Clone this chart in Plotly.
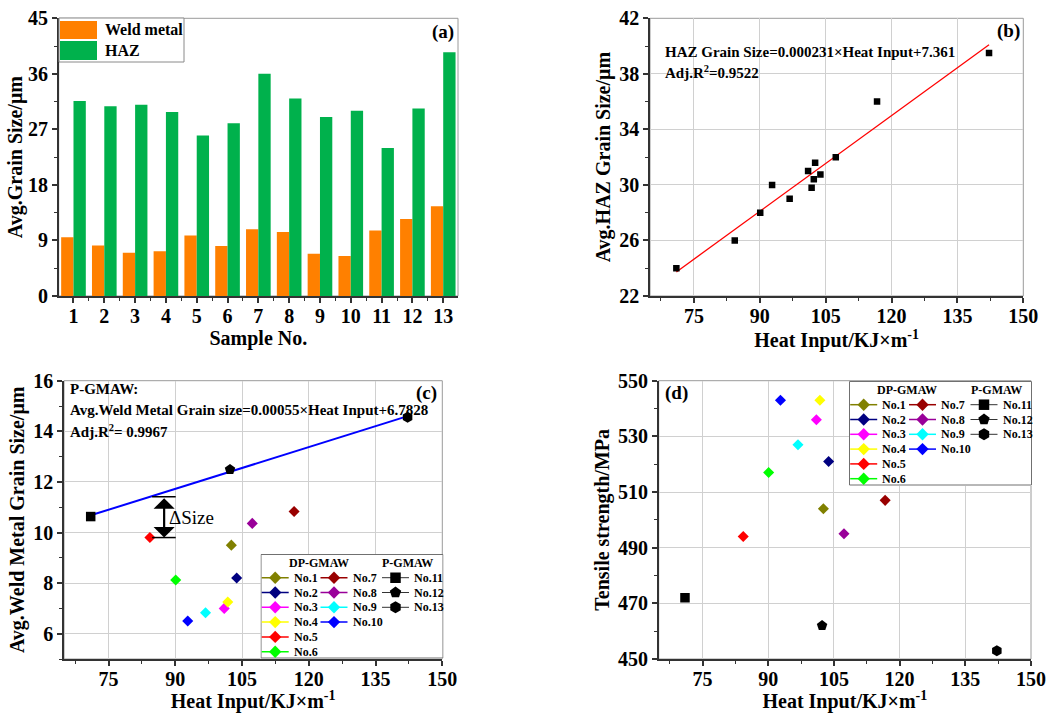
import numpy as np
import plotly.graph_objects as go

W, H = 1049, 713
FONT = "Liberation Serif, Times New Roman, serif"

# ---------------- data ----------------
samples = list(range(1, 14))
sample_names = [f"No.{i}" for i in samples]
heat_input = [102.6, 103.8, 101.0, 101.8, 84.3, 90.1, 116.7, 107.3, 96.8, 92.8, 71.0, 102.3, 142.2]
weld_size = [9.5, 8.2, 7.0, 7.25, 9.8, 8.12, 10.83, 10.36, 6.83, 6.5, 10.63, 12.49, 14.56]
haz_size = [31.6, 30.75, 31.0, 29.8, 26.0, 28.0, 36.0, 32.0, 29.0, 30.0, 24.0, 30.4, 39.5]
tensile = [504, 521, 536, 543, 494, 517, 507, 495, 527, 543, 472, 462, 453]
process = ["DP-GMAW"] * 10 + ["P-GMAW"] * 3
colors = ["#808000", "#000080", "#FF00FF", "#FFFF00", "#FF0000", "#00FF00",
          "#990000", "#990099", "#00FFFF", "#0000FF", "#000000", "#000000", "#000000"]
symbols = ["diamond"] * 10 + ["square", "pentagon", "hexagon"]
msizes = [8.5] * 10 + [9.5, 11, 11]

eq_b = ["HAZ Grain Size=0.000231×Heat Input+7.361", "Adj.R<sup>2</sup>=0.9522"]
eq_c = ["P-GMAW:", "Avg.Weld Metal Grain size=0.00055×Heat Input+6.7828", "Adj.R<sup>2</sup>= 0.9967"]

BAR_ORANGE = "#FF8000"
BAR_GREEN = "#00B14C"


def px(x):
    return x / W


def py(y):
    return 1 - y / H


fig = go.Figure()

# ---------------- (a) bars ----------------
fig.add_trace(go.Bar(x=samples, y=weld_size, name="Weld metal", marker=dict(color=BAR_ORANGE, line=dict(width=0)),
                     xaxis="x", yaxis="y", showlegend=False))
fig.add_trace(go.Bar(x=samples, y=haz_size, name="HAZ", marker=dict(color=BAR_GREEN, line=dict(width=0)),
                     xaxis="x", yaxis="y", showlegend=False))

# ---------------- (b) HAZ vs heat input ----------------
hi = np.array(heat_input)
coef_b = np.polyfit(hi, np.array(haz_size), 1)
xb = np.array([hi.min(), hi.max()])
fig.add_trace(go.Scatter(x=xb, y=np.polyval(coef_b, xb), mode="lines", line=dict(color="#FF0000", width=1.3),
                         xaxis="x2", yaxis="y2", showlegend=False))
fig.add_trace(go.Scatter(x=heat_input, y=haz_size, mode="markers",
                         marker=dict(symbol="square", size=6.5, color="black"),
                         xaxis="x2", yaxis="y2", showlegend=False))

# ---------------- (c) weld metal vs heat input ----------------
p_idx = [i for i, p in enumerate(process) if p == "P-GMAW"]
hp = hi[p_idx]
wp = np.array(weld_size)[p_idx]
coef_c = np.polyfit(hp, wp, 1)
xc = np.array([hp.min(), hp.max()])
fig.add_trace(go.Scatter(x=xc, y=np.polyval(coef_c, xc), mode="lines", line=dict(color="#0000FF", width=2),
                         xaxis="x3", yaxis="y3", showlegend=False))
for i in range(13):
    fig.add_trace(go.Scatter(x=[heat_input[i]], y=[weld_size[i]], mode="markers", name=sample_names[i],
                             marker=dict(symbol=symbols[i], size=msizes[i], color=colors[i]),
                             xaxis="x3", yaxis="y3", showlegend=False))

# ---------------- (d) tensile vs heat input ----------------
for i in range(13):
    fig.add_trace(go.Scatter(x=[heat_input[i]], y=[tensile[i]], mode="markers", name=sample_names[i],
                             marker=dict(symbol=symbols[i], size=msizes[i], color=colors[i]),
                             xaxis="x4", yaxis="y4", showlegend=False))


# ---------------- axes ----------------
def axis(domain, rng, dtick, tick0, minor_dtick, grid, title, anchor, standoff=3, is_x=False):
    d = dict(domain=domain, range=rng, dtick=dtick, tick0=tick0, showline=True, linecolor="#333333", linewidth=1.5,
             ticks="outside", ticklen=5, tickwidth=1.5, tickcolor="#333333",
             tickfont=dict(family=FONT, size=20, color="black", weight="bold"),
             title=dict(text=title, font=dict(family=FONT, size=20, color="black", weight="bold"), standoff=standoff),
             showgrid=grid, gridcolor="#d0d0d0", gridwidth=1, zeroline=False, automargin=False, anchor=anchor,
             minor=dict(ticks="outside", ticklen=3, tickwidth=1.2, tickcolor="#333333", dtick=minor_dtick,
                        tick0=tick0, showgrid=False),
             fixedrange=True)
    if is_x:
        d["ticklabelstandoff"] = -4
    return d


XT = "Heat Input/KJ×m<sup>-1</sup>"
dom_ax = [px(58.7), px(458)]
dom_bx = [px(650), px(1023.3)]
dom_cx = [px(64), px(442.3)]
dom_dx = [px(658.7), px(1031)]
dom_top = [py(296), py(18.3)]
dom_bot = [py(659), py(380.7)]

fig.update_layout(
    xaxis=axis(dom_ax, [0.52, 13.48], 1, 0, 0.5, False, "Sample No.", "y", standoff=4, is_x=True),
    yaxis=axis(dom_top, [0, 45], 9, 0, 4.5, False, "Avg.Grain Size/μm", "x", standoff=0),
    xaxis2=axis(dom_bx, [65, 150], 15, 0, 7.5, True, XT, "y2", standoff=4, is_x=True),
    yaxis2=axis(dom_top, [22, 42], 4, 22, 2, True, "Avg.HAZ Grain Size/μm", "x2", standoff=3),
    xaxis3=axis(dom_cx, [65, 150], 15, 0, 7.5, True, XT, "y3", standoff=4, is_x=True),
    yaxis3=axis(dom_bot, [5, 16], 2, 0, 1, True, "Avg.Weld Metal Grain Size/μm", "x3", standoff=3),
    xaxis4=axis(dom_dx, [65, 150], 15, 0, 7.5, True, XT, "y4", standoff=4, is_x=True),
    yaxis4=axis(dom_bot, [450, 550], 20, 450, 10, True, "Tensile strength/MPa", "x4", standoff=3),
)

shapes = []
annotations = []

# frames (top/right light lines)
for n in ["", "2", "3", "4"]:
    shapes.append(dict(type="rect", xref=f"x{n} domain", yref=f"y{n} domain", x0=0, x1=1, y0=0, y1=1,
                       line=dict(color="#9a9a9a", width=1), layer="below"))

# ---------------- (a) legend (manual) ----------------
shapes.append(dict(type="rect", xref="paper", yref="paper", x0=px(59), x1=px(184), y0=py(62), y1=py(18),
                   line=dict(color="#8a8a8a", width=1), fillcolor="white", layer="above"))
for (y0, y1, col, name) in [(21, 39, BAR_ORANGE, "Weld metal"), (41, 60, BAR_GREEN, "HAZ")]:
    shapes.append(dict(type="rect", xref="paper", yref="paper", x0=px(60), x1=px(97), y0=py(y1), y1=py(y0),
                       line=dict(width=0), fillcolor=col, layer="above"))
    annotations.append(dict(text=name, x=px(103), y=py((y0 + y1) / 2), xref="paper", yref="paper",
                            xanchor="left", yanchor="middle", showarrow=False,
                            font=dict(family=FONT, size=16, color="black", weight="bold")))

# panel labels
for txt, x, y, xa in [("(a)", 456, 31.7, "right"), ("(b)", 1022, 30.7, "right"),
                      ("(c)", 438.5, 393.3, "right"), ("(d)", 663, 393.3, "left")]:
    annotations.append(dict(text=txt, x=px(x), y=py(y), xref="paper", yref="paper", xanchor=xa, yanchor="middle",
                            showarrow=False, font=dict(family=FONT, size=19, color="black", weight="bold")))

# equations
for txt, y in zip(eq_b, [51.7, 71.7]):
    annotations.append(dict(text=txt, x=px(663), y=py(y), xref="paper", yref="paper", xanchor="left",
                            yanchor="middle", showarrow=False,
                            font=dict(family=FONT, size=15, color="black", weight="bold")))
for txt, y in zip(eq_c, [389.3, 410, 430.7]):
    annotations.append(dict(text=txt, x=px(67.7), y=py(y), xref="paper", yref="paper", xanchor="left",
                            yanchor="middle", showarrow=False,
                            font=dict(family=FONT, size=15, color="black", weight="bold")))

# ΔSize marker in (c)
i5 = 4
top = float(np.polyval(coef_c, heat_input[i5]))
bot = weld_size[i5]
ax_x = heat_input[i5] + 3.2
for yv in (top, bot):
    shapes.append(dict(type="line", xref="x3", yref="y3", x0=heat_input[i5] + 0.5, x1=heat_input[i5] + 5.8,
                       y0=yv, y1=yv, line=dict(color="black", width=1.5)))
annotations.append(dict(text="", x=ax_x, y=bot, ax=ax_x, ay=top, xref="x3", yref="y3", axref="x3", ayref="y3",
                        showarrow=True, arrowhead=1, arrowside="end+start", arrowsize=1.6, arrowwidth=2.2,
                        arrowcolor="black"))
annotations.append(dict(text="ΔSize", x=ax_x + 0.6, y=(top + bot) / 2, xref="x3", yref="y3", xanchor="left",
                        yanchor="middle", showarrow=False, font=dict(family=FONT, size=19, color="black")))

# ---------------- (c)/(d) legends (manual, on overlay axes) ----------------
LW, LH = 183, 105
col_x0 = [1.2, 60, 121.5]
row0, row_step = 23.7, 14.8


def add_legend(n, left, top_):
    fig.update_layout({
        f"xaxis{n}": dict(domain=[px(left), px(left + LW)], range=[0, LW], visible=False, fixedrange=True,
                          anchor=f"y{n}"),
        f"yaxis{n}": dict(domain=[py(top_ + LH), py(top_)], range=[LH, 0], visible=False, fixedrange=True,
                          anchor=f"x{n}"),
    })
    shapes.append(dict(type="rect", xref=f"x{n}", yref=f"y{n}", x0=0.5, x1=LW - 0.5, y0=0.5, y1=LH - 1,
                       fillcolor="white", line=dict(color="#707070", width=1), layer="below"))
    for txt, cx in [("DP-GMAW", 58), ("P-GMAW", 147)]:
        annotations.append(dict(text=txt, x=cx, y=9, xref=f"x{n}", yref=f"y{n}", xanchor="center",
                                yanchor="middle", showarrow=False,
                                font=dict(family=FONT, size=12, color="black", weight="bold")))
    for i in range(13):
        col = 0 if i < 6 else (1 if i < 10 else 2)
        row = i if i < 6 else (i - 6 if i < 10 else i - 10)
        x0 = col_x0[col]
        yy = row0 + row * row_step
        lc = colors[i] if process[i] == "DP-GMAW" else "#333333"
        lw = 1.5 if process[i] == "DP-GMAW" else 1
        fig.add_trace(go.Scatter(x=[x0, x0 + 27], y=[yy, yy], mode="lines",
                                 line=dict(color=lc, width=lw),
                                 xaxis=f"x{n}", yaxis=f"y{n}", showlegend=False, hoverinfo="skip"))
        fig.add_trace(go.Scatter(x=[x0 + 13.5], y=[yy], mode="markers",
                                 marker=dict(symbol=symbols[i], color=colors[i], size=msizes[i] + 1),
                                 xaxis=f"x{n}", yaxis=f"y{n}", showlegend=False, hoverinfo="skip"))
        annotations.append(dict(text=sample_names[i], x=x0 + 30, y=yy, xref=f"x{n}", yref=f"y{n}",
                                xanchor="left", yanchor="middle", showarrow=False,
                                font=dict(family=FONT, size=12, color="black", weight="bold")))


add_legend(5, 260.5, 554)
add_legend(6, 849, 381)

fig.update_layout(
    width=W, height=H, margin=dict(l=0, r=0, t=0, b=0),
    paper_bgcolor="white", plot_bgcolor="white",
    font=dict(family=FONT, color="black"),
    barmode="group", bargap=0.2, bargroupgap=0,
    showlegend=False,
    shapes=shapes, annotations=annotations,
)

fig.write_html("out.html")
